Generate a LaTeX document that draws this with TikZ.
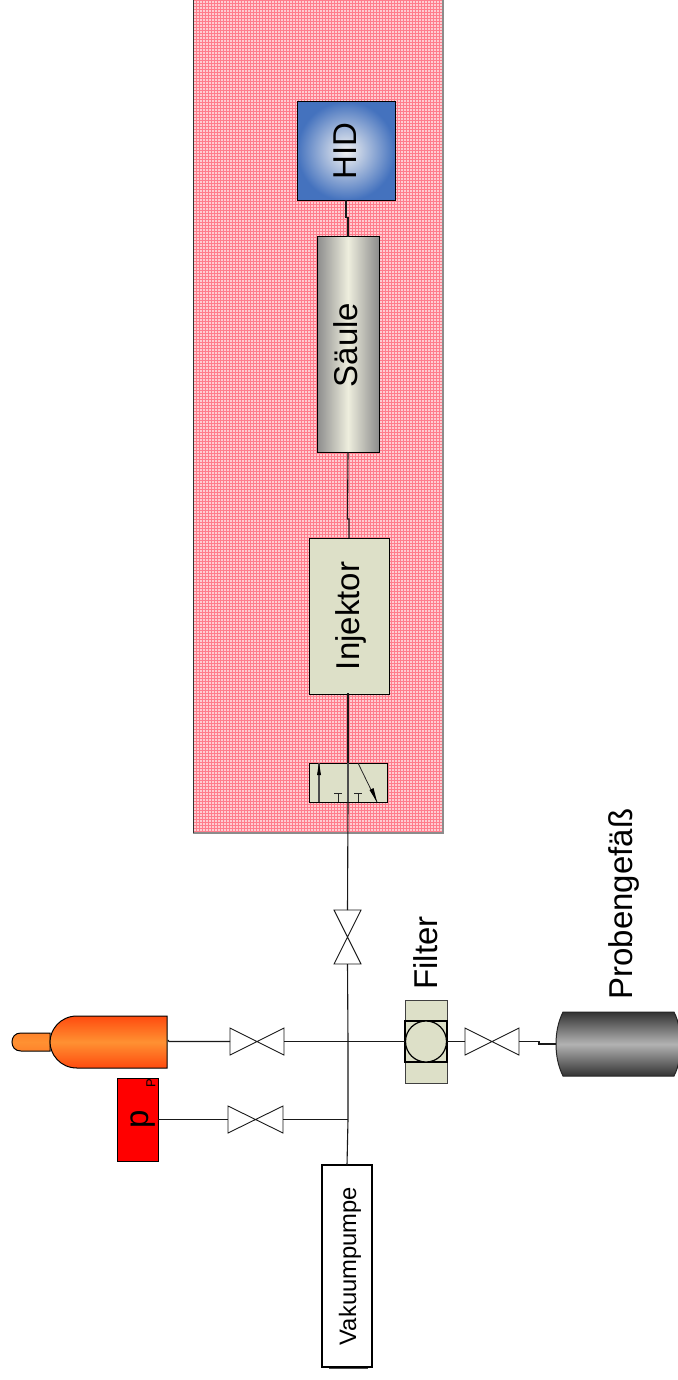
\documentclass[tikz,border=0pt]{standalone}
\usepackage{fontspec}
\setmainfont{Liberation Sans}
\definecolor{olivebox}{RGB}{221,224,200}
\definecolor{hatchbg}{RGB}{255,205,210}
\definecolor{hatchln}{RGB}{255,125,140}
\definecolor{orangedk}{RGB}{255,75,15}
\definecolor{orangemd}{RGB}{255,145,50}
\definecolor{hidblue}{RGB}{68,114,190}
\definecolor{saulelt}{RGB}{238,238,222}
\tikzset{
 x=0.5pt,y=-0.5pt,
 pipe/.style={draw=black!90,line width=0.55pt},
 box/.style={draw=black,line width=0.5pt,inner sep=0,outer sep=0,anchor=north west},
 vnode/.style={inner sep=0,outer sep=0,minimum width=#1*0.5pt,minimum height=13.5pt},
 big/.style={font=\fontsize{16.5}{18}\selectfont,rotate=90,inner sep=0},
}
\newcommand{\bx}[6]{\node[box,#6,minimum width=#3*0.5pt,minimum height=#4*0.5pt] (#5) at (#1,#2) {};}
\begin{document}
\begin{tikzpicture}
\useasboundingbox (0,0) rectangle (678,1380);
% oven
\fill[hatchbg] (193,0) rectangle (443,833);
\begin{scope}
\clip (193,0) rectangle (443,833);
\foreach \i in {0,...,83} \draw[hatchln,line width=0.3pt] (193+\i*3,0) -- (193+\i*3,833);
\foreach \i in {0,...,278} \draw[hatchln,line width=0.3pt] (193,\i*3) -- (443,\i*3);
\end{scope}
\draw[black!45,line width=0.6pt] (193,833) -- (443,833) -- (443,0);
\draw[black!80,line width=0.5pt] (193,0) -- (193,833);
% oven column parts
\bx{297}{101.5}{98}{99}{hid}{inner color=black!5,outer color=hidblue}
\bx{317}{237}{62}{215}{saule}{left color=black!45,right color=black!45,middle color=saulelt}
\bx{309}{538}{80}{156}{inj}{fill=olivebox}
\bx{309}{763}{78}{39}{wv}{fill=olivebox}
\node[big] (hidt) at (345,151) {HID};
\node[big] (saulet) at (345.5,345) {Säule};
\node[big] (injt) at (351,616) {Injektor};
% switching valve internals
\coordinate (wvc) at (348,763);
\coordinate (wvd) at (348,802);
\coordinate (a1) at (319,802); \coordinate (a2) at (319,763);
\coordinate (b1) at (358,763); \coordinate (b2) at (377,802);
\draw[black!70,line width=0.6pt] (wvd) -- (wvc);
\draw[black!70,line width=0.6pt] (a1) -- (a2);
\fill[black] (319,763) -- (317,775) -- (321,775) -- cycle;
\draw[black!85,line width=0.4pt] (b1) -- (b2);
\fill[black] (377,802) -- (369.5,790) -- (373.5,788) -- cycle;
\draw[black!85,line width=0.4pt] (338,802) -- (338,793) (334,793) -- (342,793);
\draw[black!85,line width=0.4pt] (358,802) -- (358,793) (354,793) -- (362,793);
% valves
\node[vnode=27,minimum height=27pt] (v4) at (347.5,937) {};
\node[vnode=54] (v1) at (257,1041.5) {};
\node[vnode=55] (v2) at (255.5,1119.5) {};
\node[vnode=54] (v3) at (492,1041.5) {};
\foreach \v in {v1,v2,v3}
 \draw[black!90,fill=white,line width=0.45pt] (\v.north west) -- (\v.south east) -- (\v.north east) -- (\v.south west) -- cycle;
\draw[black!90,fill=white,line width=0.45pt] (v4.north west) -- (v4.north east) -- (v4.south west) -- (v4.south east) -- cycle;
% vacuum pump
\bx{322}{1165}{50}{202}{vak}{line width=0.9pt,fill=white}
\node[rotate=90,inner sep=0,font=\fontsize{11.9}{13}\selectfont] (vakt) at (350,1266) {Vakuumpumpe};
\draw[black!70,line width=0.5pt] (329,1368) -- (368,1368);
% pressure gauge
\bx{117}{1078}{41}{83}{pg}{fill=red}
\node[rotate=90,inner sep=0,font=\fontsize{16.5}{18}\selectfont] (pt) at (143,1119) {p};
\node[rotate=90,inner sep=0,font=\fontsize{6.5}{7}\selectfont] (pp) at (151,1083.5) {P};
% filter
\bx{405}{1000}{42}{83}{fil}{fill=olivebox,draw=black!75}
\bx{405}{1021}{42}{41}{filq}{draw=black,line width=0.7pt,fill=olivebox}
\node[circle,draw=black,line width=0.6pt,inner sep=0,outer sep=0,minimum size=20.5pt,fill=olivebox] (filc) at (426,1041.5) {};
\node[big] (filt) at (425.5,953) {Filter};
% gas cylinder
\path[top color=orangemd!80!orangedk,bottom color=orangemd!80!orangedk,middle color=orangemd,draw=black,line width=0.5pt] (50,1033) -- (21,1033) .. controls (15,1033) and (12,1037) .. (12,1042) .. controls (12,1047) and (15,1051) .. (21,1051) -- (50,1051) -- cycle;
\path[top color=orangedk,bottom color=orangedk,middle color=orangemd,draw=black,line width=0.5pt] (167,1016) -- (77,1016) .. controls (60,1016) and (50,1030) .. (50,1042) .. controls (50,1054) and (60,1068) .. (77,1068) -- (167,1068) -- cycle;
\coordinate (cyl) at (168,1040);
% sample vessel
\path[top color=black!80,bottom color=black!80,middle color=black!30,draw=black!85,line width=0.5pt] (563,1012) .. controls (558,1022) and (556,1033) .. (556,1044) .. controls (556,1055) and (558,1066) .. (563,1076) -- (674,1076) .. controls (677,1070) and (678,1066) .. (679,1060) -- (679,1028) .. controls (678,1022) and (677,1018) .. (674,1012) -- cycle;
\node[big] (probt) at (623.5,904) {Probengefäß};
% pipes
\coordinate (j1) at (348,1041.5);
\coordinate (j2) at (348,1119.5);
\draw[pipe] (hid.south) -- ++(0,17) -- ++(2,0) |- (saule.north);
\draw[pipe] (saule.south) -- (347.5,519) -- (349,519) -- (349,538);
\draw[pipe] (349,694) -- (348,694) -- (wvc);
\draw[pipe] (wvd) -- (v4.north);
\draw[pipe] (v4.south) -- (j1) -- (j2) -- (vak.north);
\draw[pipe] (cyl) -- (169,1041.5) -- (v1.west);
\draw[pipe] (v1.east) -- (filq.west);
\draw[pipe] (filq.east) -- (v3.west);
\draw[pipe] (v3.east) -- (539,1041.5) -- (539,1044) -- (556,1044);
\draw[pipe] (pg.east) -- (v2.west);
\draw[pipe] (v2.east) -- (j2);
\end{tikzpicture}
\end{document}
